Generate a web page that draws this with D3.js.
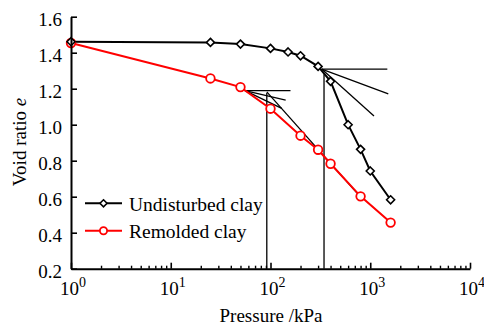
<!DOCTYPE html>
<html><head><meta charset="utf-8">
<script src="https://cdn.jsdelivr.net/npm/d3@7"></script>
<style>body{margin:0;background:#fff} svg{display:block} text{font-family:"Liberation Serif","Times New Roman",serif;}</style>
</head><body>
<script>
// ---- data ----
const undisturbedP = [1, 25, 50, 100, 150, 200, 300, 400, 600, 800, 1000, 1600];
const undisturbedE = [1.461, 1.457, 1.448, 1.424, 1.404, 1.383, 1.324, 1.241, 1.000, 0.863, 0.743, 0.583];
const remoldedP = [1, 25, 50, 100, 200, 300, 400, 800, 1600];
const remoldedE = [1.454, 1.257, 1.209, 1.089, 0.939, 0.861, 0.783, 0.602, 0.456];
const yTicks = [0.2, 0.4, 0.6, 0.8, 1.0, 1.2, 1.4, 1.6];
const xTickExps = [0, 1, 2, 3, 4];
const seriesNames = ["Undisturbed clay", "Remolded clay"];
// Casagrande construction lines, each [[p1, e1], [p2, e2]]
const undisturbedConstruction = [
  [[326, 1.309], [1483, 1.309]],
  [[326, 1.309], [1517, 1.171]],
  [[326, 1.309], [1090, 1.048]],
  [[344, 1.280], [344, 0.2]]
];
const remoldedConstruction = [
  [[55.5, 1.189], [158.6, 1.189]],
  [[55.5, 1.189], [142, 1.137]],
  [[55.5, 1.189], [129.5, 1.091]],
  [[91.8, 1.176], [91.8, 0.2]],
  [[91.8, 1.182], [789, 0.602]]
];

// ---- drawing ----
const W = 484, H = 326;
const FONT = '"Liberation Serif", "Times New Roman", serif';
const svg = d3.select("body").append("svg").attr("width", W).attr("height", H);

const x = d3.scaleLog().domain([1, 1e4]).range([71, 470]);
const y = d3.scaleLinear().domain([0.2, 1.6]).range([268.7, 16.7]);

// construction lines
const line2 = d3.line().x(d => x(d[0])).y(d => y(d[1]));
svg.append("g").selectAll("path")
  .data(undisturbedConstruction.concat(remoldedConstruction))
  .join("path")
  .attr("d", line2)
  .attr("fill", "none").attr("stroke", "#000").attr("stroke-width", 1.3);

// series
const undisturbed = undisturbedP.map((p, i) => [p, undisturbedE[i]]);
const remolded = remoldedP.map((p, i) => [p, remoldedE[i]]);
const dataLine = d3.line().x(d => x(d[0])).y(d => y(d[1]));

svg.append("path").datum(remolded).attr("d", dataLine)
  .attr("fill", "none").attr("stroke", "#ff0000").attr("stroke-width", 2);
svg.append("path").datum(undisturbed).attr("d", dataLine)
  .attr("fill", "none").attr("stroke", "#000").attr("stroke-width", 2);

const diamond = (cx, cy, r) => `M${cx},${cy - r}L${cx + r},${cy}L${cx},${cy + r}L${cx - r},${cy}Z`;

svg.append("g").selectAll("circle").data(remolded).join("circle")
  .attr("cx", d => x(d[0])).attr("cy", d => y(d[1])).attr("r", 4.3)
  .attr("fill", "#fff").attr("stroke", "#ff0000").attr("stroke-width", 1.8);
svg.append("g").selectAll("path").data(undisturbed).join("path")
  .attr("d", d => diamond(x(d[0]), y(d[1]), 4))
  .attr("fill", "#fff").attr("stroke", "#000").attr("stroke-width", 1.6);

// axes
const yAxis = d3.axisLeft(y).tickValues(yTicks).tickSize(-6).tickSizeOuter(0)
  .tickPadding(9).tickFormat(d3.format(".1f"));
const gy = svg.append("g").attr("transform", `translate(${x(1)},0)`).call(yAxis)
  .attr("font-family", FONT).attr("font-size", 19);
gy.selectAll("text").attr("font-size", 19).attr("font-family", FONT).attr("dy", "0.45em").attr("fill", "#000");
gy.selectAll("line").attr("stroke-width", 1.6);
gy.select(".domain").attr("stroke-width", 2);

const minorTicks = [];
for (let e = 0; e < 4; e++) for (let k = 2; k <= 9; k++) minorTicks.push(k * Math.pow(10, e));
const majorTicks = xTickExps.map(e => Math.pow(10, e));

const gxMinor = svg.append("g").attr("transform", `translate(0,${y(0.2)})`)
  .call(d3.axisBottom(x).tickValues(minorTicks).tickSize(-3).tickFormat(() => ""));
gxMinor.select(".domain").remove();
gxMinor.selectAll("line").attr("stroke-width", 1.4);

const gx = svg.append("g").attr("transform", `translate(0,${y(0.2)})`)
  .call(d3.axisBottom(x).tickValues(majorTicks).tickSize(-6).tickSizeOuter(0).tickFormat(() => ""));
gx.selectAll("line").attr("stroke-width", 1.6);
gx.select(".domain").attr("stroke-width", 2);

// x tick labels 10^n
const xl = svg.append("g").selectAll("text").data(xTickExps).join("text")
  .attr("x", e => x(Math.pow(10, e)) + 2).attr("y", 295)
  .attr("text-anchor", "middle").attr("font-family", FONT).attr("font-size", 19).attr("fill", "#000");
xl.append("tspan").text("10");
xl.append("tspan").attr("dy", -8).attr("font-size", 14).text(e => e);

// axis titles
svg.append("text").attr("x", 271).attr("y", 322).attr("text-anchor", "middle")
  .attr("font-family", FONT).attr("font-size", 19).text("Pressure /kPa");
const yt = svg.append("text").attr("transform", "translate(26,142) rotate(-90)")
  .attr("text-anchor", "middle").attr("font-family", FONT).attr("font-size", 19);
yt.append("tspan").text("Void ratio ");
yt.append("tspan").attr("font-style", "italic").text("e");

// legend
const legend = svg.append("g");
const legY = [203.3, 230.7];
const legColors = ["#000", "#ff0000"];
seriesNames.forEach((name, i) => {
  legend.append("line").attr("x1", 85).attr("x2", 122).attr("y1", legY[i]).attr("y2", legY[i])
    .attr("stroke", legColors[i]).attr("stroke-width", 2);
  if (i === 0) {
    legend.append("path").attr("d", diamond(103.5, legY[i], 3.5))
      .attr("fill", "#fff").attr("stroke", "#000").attr("stroke-width", 1.6);
  } else {
    legend.append("circle").attr("cx", 103.5).attr("cy", legY[i]).attr("r", 3.6)
      .attr("fill", "#fff").attr("stroke", "#ff0000").attr("stroke-width", 1.8);
  }
  legend.append("text").attr("x", 129).attr("y", legY[i] + 3.3)
    .attr("dy", "0.2em").attr("font-family", FONT).attr("font-size", 19.5).text(name);
});
</script>
</body></html>
